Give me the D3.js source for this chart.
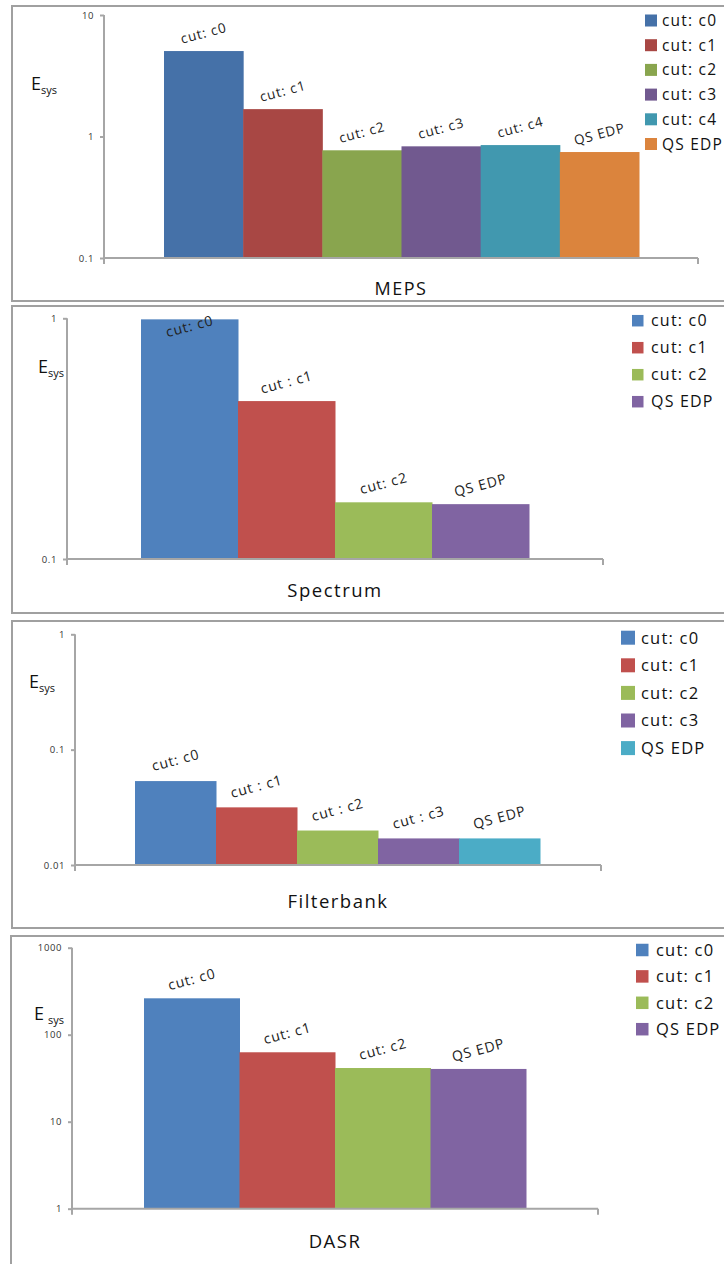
<!DOCTYPE html>
<html><head><meta charset="utf-8">
<script src="https://cdn.jsdelivr.net/npm/d3@7"></script>
<style>body{margin:0;background:#fff}svg{display:block}</style>
</head><body><svg id="c" width="724" height="1264"></svg>
<script>
// ---- data ----
const mepsCategories = ["cut: c0","cut: c1","cut: c2","cut: c3","cut: c4","QS EDP"];
const mepsLabels     = ["cut: c0","cut: c1","cut: c2","cut: c3","cut: c4","QS EDP"];
const mepsValues     = [5.05, 1.68, 0.77, 0.83, 0.85, 0.745];
const mepsTicks      = [0.1, 1, 10];
const mepsTickLabels = ["0.1","1","10"];

const specCategories = ["cut: c0","cut: c1","cut: c2","QS EDP"];
const specLabels     = ["cut: c0","cut : c1","cut: c2","QS EDP"];
const specValues     = [0.99, 0.453, 0.172, 0.169];
const specTicks      = [0.1, 1];
const specTickLabels = ["0.1","1"];

const filtCategories = ["cut: c0","cut: c1","cut: c2","cut: c3","QS EDP"];
const filtLabels     = ["cut: c0","cut : c1","cut : c2","cut : c3","QS EDP"];
const filtValues     = [0.0534, 0.0316, 0.0199, 0.017, 0.017];
const filtTicks      = [0.01, 0.1, 1];
const filtTickLabels = ["0.01","0.1","1"];

const dasrCategories = ["cut: c0","cut: c1","cut: c2","QS EDP"];
const dasrLabels     = ["cut: c0","cut: c1","cut: c2","QS EDP"];
const dasrValues     = [262, 62.8, 41.4, 40.4];
const dasrTicks      = [1, 10, 100, 1000];
const dasrTickLabels = ["1","10","100","1000"];

const titles = ["MEPS","Spectrum","Filterbank","DASR"];

const colorsDark  = ["#4571A8","#A84744","#89A54E","#71598F","#4198AF","#DB843D"];
const colorsLight = ["#4F81BD","#C0504D","#9BBB59","#8064A2","#4BACC6"];

// ---- layout (positions only) ----
const panels = [
  {cats:mepsCategories, labels:mepsLabels, vals:mepsValues, ticks:mepsTicks, tickLabels:mepsTickLabels, title:titles[0], colors:colorsDark,
   box:[12,6,760,295], ax:104, yTop:15, yBot:258, xEnd:698, bars:[164,639], labOff:18, labFont:13.5,
   titleY:295, titleX:401, titleFont:18, ey:90, ex:31,
   leg:{x:645,y:20.5,step:24.7,sq:12,fs:15.5,tx:662}},
  {cats:specCategories, labels:specLabels, vals:specValues, ticks:specTicks, tickLabels:specTickLabels, title:titles[1], colors:colorsLight,
   box:[12,306,760,307], ax:67, yTop:318.3, yBot:559, xEnd:603, bars:[141,529], labOff:19, labFont:14,
   titleY:597, titleX:335, titleFont:18.5, ey:373, ex:38,
   leg:{x:632,y:320.7,step:27,sq:11.5,fs:16,tx:651}},
  {cats:filtCategories, labels:filtLabels, vals:filtValues, ticks:filtTicks, tickLabels:filtTickLabels, title:titles[2], colors:colorsLight,
   box:[12,621,760,307], ax:75, yTop:634.3, yBot:865, xEnd:601, bars:[135,540], labOff:21, labFont:14,
   titleY:908, titleX:338, titleFont:18.5, ey:688, ex:29,
   leg:{x:621,y:637.7,step:27.6,sq:14,fs:16.5,tx:641}},
  {cats:dasrCategories, labels:dasrLabels, vals:dasrValues, ticks:dasrTicks, tickLabels:dasrTickLabels, title:titles[3], colors:colorsLight,
   box:[11,936,760,400], ax:72, yTop:947.7, yBot:1208.7, xEnd:598, bars:[144,526], labOff:19, labFont:14,
   titleY:1248, titleX:335, titleFont:18.5, ey:1020, ex:34, eGap:true,
   leg:{x:636,y:950,step:26.4,sq:12.5,fs:16.5,tx:656}}
];

const svg = d3.select("#c");
const FONT = "'Open Sans', 'DejaVu Sans', sans-serif";
const GRAY = "#A6A6A6";

panels.forEach(p => {
  const g = svg.append("g");
  // border
  g.append("rect").attr("x",p.box[0]).attr("y",p.box[1]).attr("width",p.box[2]).attr("height",p.box[3])
    .attr("fill","#fff").attr("stroke","#A0A0A0").attr("stroke-width",2);

  const y = d3.scaleLog().domain([p.ticks[0], p.ticks[p.ticks.length-1]]).range([p.yBot, p.yTop]);
  const x = d3.scaleBand().domain(p.cats).range(p.bars).padding(0);

  // bars
  g.selectAll("rect.bar").data(p.vals).enter().append("rect").attr("class","bar")
    .attr("x",(d,i)=>x(p.cats[i])).attr("width",x.bandwidth()+0.5)
    .attr("y",d=>y(d)).attr("height",d=>p.yBot - y(d))
    .attr("fill",(d,i)=>p.colors[i]);

  // y axis
  const yAxis = d3.axisLeft(y).tickValues(p.ticks).tickFormat((d,i)=>p.tickLabels[i]).tickSize(4).tickPadding(6);
  const ya = g.append("g").attr("transform",`translate(${p.ax},0)`).call(yAxis);
  ya.select(".domain").remove();
  ya.selectAll(".tick line").attr("stroke",GRAY).attr("stroke-width",2);
  ya.selectAll(".tick text").attr("font-family",FONT).attr("font-size",9.5).attr("fill","#333").attr("letter-spacing",0.6);
  g.append("line").attr("x1",p.ax).attr("x2",p.ax).attr("y1",p.yTop).attr("y2",p.yBot+6).attr("stroke",GRAY).attr("stroke-width",2);
  // x axis
  g.append("line").attr("x1",p.ax).attr("x2",p.xEnd).attr("y1",p.yBot).attr("y2",p.yBot).attr("stroke",GRAY).attr("stroke-width",2);
  g.append("line").attr("x1",p.xEnd).attr("x2",p.xEnd).attr("y1",p.yBot).attr("y2",p.yBot+6).attr("stroke",GRAY).attr("stroke-width",2);

  // bar labels
  g.selectAll("text.bl").data(p.vals).enter().append("text").attr("class","bl")
    .attr("transform",(d,i)=>{
      const cx = x(p.cats[i]) + x.bandwidth()/2;
      const cy = Math.max(y(d) - p.labOff, p.yTop + 8);
      return `translate(${cx},${cy}) rotate(-15)`;
    })
    .attr("text-anchor","middle").attr("dy","0.35em")
    .attr("font-family",FONT).attr("font-size",p.labFont).attr("letter-spacing",0.9).attr("fill","#222")
    .text((d,i)=>p.labels[i]);

  // title
  g.append("text").attr("x",p.titleX).attr("y",p.titleY).attr("text-anchor","middle")
    .attr("font-family",FONT).attr("font-size",p.titleFont).attr("letter-spacing",1.5).attr("fill","#111").text(p.title);

  // E_sys
  const e = g.append("text").attr("x",p.ex).attr("y",p.ey).attr("font-family",FONT).attr("fill","#111");
  e.append("tspan").attr("font-size",18).text("E");
  e.append("tspan").attr("font-size",11).attr("dy",4).attr("dx",p.eGap?4:0).text("sys");

  // legend
  const L = p.leg;
  const lg = g.selectAll("g.lg").data(p.cats).enter().append("g").attr("class","lg")
    .attr("transform",(d,i)=>`translate(0,${L.y + i*L.step})`);
  lg.append("rect").attr("x",L.x).attr("y",-L.sq/2).attr("width",L.sq).attr("height",L.sq).attr("fill",(d,i)=>p.colors[i]);
  lg.append("text").attr("x",L.tx).attr("dy","0.36em").attr("font-family",FONT).attr("font-size",L.fs)
    .attr("letter-spacing",1.2).attr("fill","#111").text(d=>d);
});
</script></body></html>
